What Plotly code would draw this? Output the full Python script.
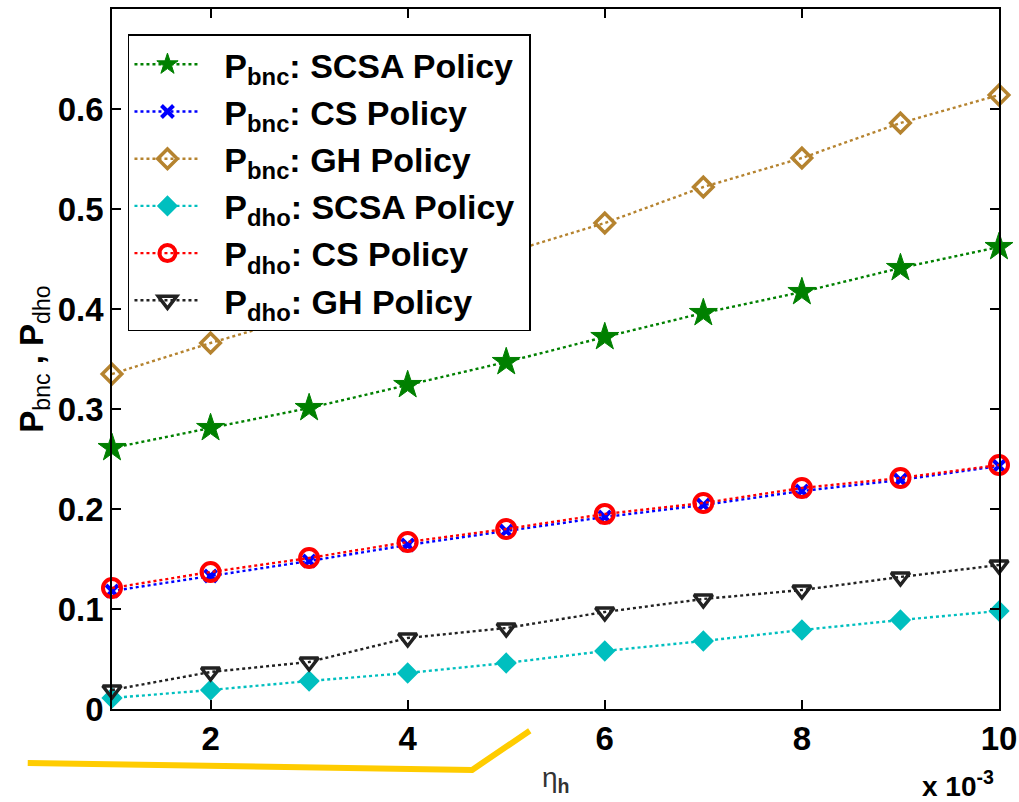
import plotly.graph_objects as go

x_vals = [1, 2, 3, 4, 5, 6, 7, 8, 9, 10]

pbnc_scsa = [0.261, 0.281, 0.301, 0.324, 0.347, 0.372, 0.396, 0.417, 0.441, 0.462]
pbnc_cs = [0.118, 0.133, 0.148, 0.164, 0.178, 0.192, 0.204, 0.218, 0.229, 0.243]
pbnc_gh = [0.335, 0.366, 0.395, 0.425, 0.456, 0.486, 0.522, 0.551, 0.586, 0.614]
pdho_scsa = [0.011, 0.019, 0.028, 0.036, 0.046, 0.058, 0.068, 0.079, 0.089, 0.098]
pdho_cs = [0.121, 0.137, 0.151, 0.167, 0.180, 0.195, 0.206, 0.221, 0.231, 0.244]
pdho_gh = [0.019, 0.037, 0.047, 0.071, 0.081, 0.097, 0.110, 0.119, 0.132, 0.144]

names = [
    "&nbsp;&nbsp;<b>P<sub>bnc</sub>: SCSA Policy</b>&nbsp;",
    "&nbsp;&nbsp;<b>P<sub>bnc</sub>: CS Policy</b>",
    "&nbsp;&nbsp;<b>P<sub>bnc</sub>: GH Policy</b>",
    "&nbsp;&nbsp;<b>P<sub>dho</sub>: SCSA Policy</b>&nbsp;",
    "&nbsp;&nbsp;<b>P<sub>dho</sub>: CS Policy</b>",
    "&nbsp;&nbsp;<b>P<sub>dho</sub>: GH Policy</b>",
]

x_ticks = [2, 4, 6, 8, 10]
y_ticks = [0, 0.1, 0.2, 0.3, 0.4, 0.5, 0.6]

fig = go.Figure()

styles = [
    (pbnc_scsa, "#008000", dict(symbol="star", size=21, color="#008000", line=dict(color="#008000", width=1))),
    (pbnc_cs, "#0000FF", dict(symbol="x-thin", size=12, color="#0000FF", line=dict(color="#0000FF", width=4))),
    (pbnc_gh, "#B5832F", dict(symbol="diamond-open", size=15, color="#B5832F", line=dict(color="#B5832F", width=3.5))),
    (pdho_scsa, "#00BFBF", dict(symbol="diamond", size=12, color="#00BFBF", line=dict(color="#00BFBF", width=4))),
    (pdho_cs, "#FF0000", dict(symbol="circle-open", size=18, color="#FF0000", line=dict(color="#FF0000", width=4))),
    (pdho_gh, "#222222", dict(symbol="triangle-down-open", size=16, color="#222222", line=dict(color="#222222", width=3.5))),
]

for (vals, col, mk), nm in zip(styles, names):
    fig.add_trace(go.Scatter(
        x=x_vals, y=vals, name=nm, mode="lines+markers",
        line=dict(color=col, width=2.4, dash="dot"),
        marker=mk, cliponaxis=False,
    ))

fig.update_layout(
    width=1019, height=802,
    margin=dict(l=112, r=20, t=9, b=93, autoexpand=False),
    paper_bgcolor="white", plot_bgcolor="white",
    font=dict(family="Liberation Sans, Arial, sans-serif", color="black"),
    showlegend=True,
    legend=dict(
        x=0.018, y=0.964, xanchor="left", yanchor="top",
        bgcolor="white", bordercolor="black", borderwidth=1.5,
        font=dict(size=34, color="black"),
        itemwidth=66, tracegroupgap=0,
    ),
    xaxis=dict(
        range=[1, 10], tickvals=x_ticks, ticktext=[f"<b>{t}</b>" for t in x_ticks],
        ticks="inside", ticklen=9, tickwidth=1.5, tickcolor="black",
        showline=True, linecolor="black", linewidth=1.5, mirror="ticks",
        showgrid=False, zeroline=False,
        tickfont=dict(size=33, color="black"),
    ),
    yaxis=dict(
        range=[0, 0.7], tickvals=y_ticks, ticktext=[f"<b>{t:g}</b>" for t in y_ticks],
        ticks="inside", ticklen=9, tickwidth=1.5, tickcolor="black",
        showline=True, linecolor="black", linewidth=1.5, mirror="ticks",
        showgrid=False, zeroline=False,
        tickfont=dict(size=33, color="black"),
        title=dict(text="<b>P</b><sub>bnc</sub> <b>,</b> <b>P</b><sub>dho</sub>", font=dict(size=33, color="black"), standoff=4),
    ),
    annotations=[
        dict(text="η<sub><b>h</b></sub>", xref="paper", yref="paper",
             x=0.5, y=-0.101, xanchor="center", yanchor="middle", showarrow=False,
             font=dict(size=28, color="#333333")),
        dict(text="<b>x 10<sup>-3</sup></b>", xref="paper", yref="paper",
             x=0.997, y=-0.107, xanchor="right", yanchor="middle", showarrow=False,
             font=dict(size=28, color="black")),
    ],
    shapes=[
        dict(type="path", xref="paper", yref="paper",
             path="M -0.095 -0.077 L 0.406 -0.087 L 0.471 -0.031",
             line=dict(color="#FFCC00", width=6)),
    ],
)

fig.write_html(
    "out.html",
    config={"displayModeBar": False},
    post_script="document.body.style.margin='0';document.body.style.overflow='hidden';",
)
